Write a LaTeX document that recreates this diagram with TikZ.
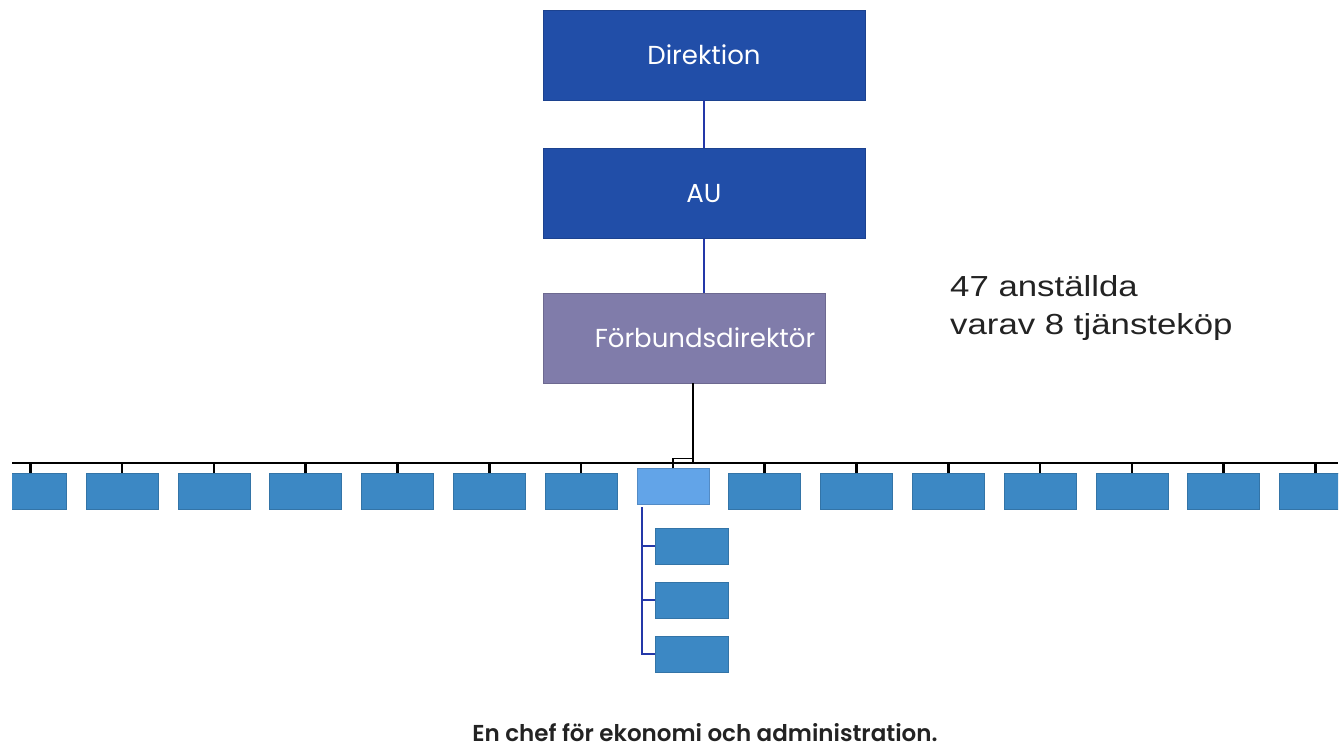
\documentclass[tikz,border=0pt]{standalone}
\usepackage{fontspec}
\setmainfont{Poppins}
\newfontfamily\notefont{Liberation Sans}[FakeStretch=1.2]
\newfontfamily\capfont{Poppins}[UprightFont=* SemiBold]
\usetikzlibrary{positioning}
\definecolor{topblue}{RGB}{33,78,168}
\definecolor{greypurple}{RGB}{128,124,170}
\definecolor{unitblue}{RGB}{60,136,196}
\definecolor{lightunit}{RGB}{98,164,232}
\definecolor{linkblue}{RGB}{36,56,168}
\definecolor{inkgrey}{RGB}{35,35,35}

\tikzset{
  headbox/.style={fill=topblue, draw=topblue!85!black, text=white, minimum width=322pt,
    minimum height=90pt, inner sep=0pt, font=\fontsize{26}{28}\selectfont},
  unitbox/.style={fill=unitblue, draw=unitblue!85!black, minimum width=72pt,
    minimum height=36pt, inner sep=0pt},
  link/.style={line width=2.6pt}
}

\begin{document}
\begin{tikzpicture}[x=1pt,y=-1pt]
            \useasboundingbox (0,0) rectangle (1343,749);

            % Direction and director
            \node[headbox] (dir) at (704,55) {Direktion};
            \node[headbox] (au) at (704,193.5) {AU};
            \node[headbox, fill=greypurple, draw=greypurple!85!black, minimum width=282pt] (fd) at (684,338) {};
            \node[text=white, font=\fontsize{26}{28}\selectfont] (fdlabel) at (705,338) {Förbundsdirektör};
            \draw[link, linkblue] (dir) -- (au);
            \draw[link, linkblue] (au.south) -- (au.south |- fd.north);

            % Units along the bar
            \coordinate (barL) at (12,463);
            \coordinate (barR) at (1338,463);
            \coordinate (drop) at (693,463);
            \draw[link] (barL) -- (barR);
            \draw[link] (fd.south -| drop) -- (drop);
            \begin{scope}
                \clip (12,440) rectangle (1338,520);
                \foreach \i in {1,...,7,9,10,...,15} {
                    \node[unitbox] (u\i) at ({30.2+(\i-1)*91.8},491) {};
                    \draw[link] (u\i.north) -- (u\i.north |- barL);
                }
            \end{scope}
            \node[unitbox, fill=lightunit, draw=lightunit!85!black] (u8) at (672.8,486.5) {};
            \draw[line width=1.6pt] (u8.north) -- ++(0,-10) -| (drop);

            % Economy and administration
            \coordinate (spine) at (642,507);
            \foreach \j/\y in {1/546,2/600,3/654}
                \node[unitbox, minimum width=73pt] (s\j) at (691.5,\y) {};
            \draw[link, linkblue] (spine) -- (spine |- s3) -- (s3.west);
            \draw[link, linkblue] (spine |- s1) -- (s1.west);
            \draw[link, linkblue] (spine |- s2) -- (s2.west);

            % Notes
            \node[anchor=base west, align=left, inner sep=0pt, text=inkgrey, font=\notefont\fontsize{29}{38}\selectfont] (staff) at (950,334) {47 anställda\\varav 8 tjänsteköp};
            \node[anchor=base, inner sep=0pt, text=inkgrey, font=\capfont\fontsize{23}{26}\selectfont] (caption) at (705,741) {En chef för ekonomi och administration.};
        \end{tikzpicture}
\end{document}
